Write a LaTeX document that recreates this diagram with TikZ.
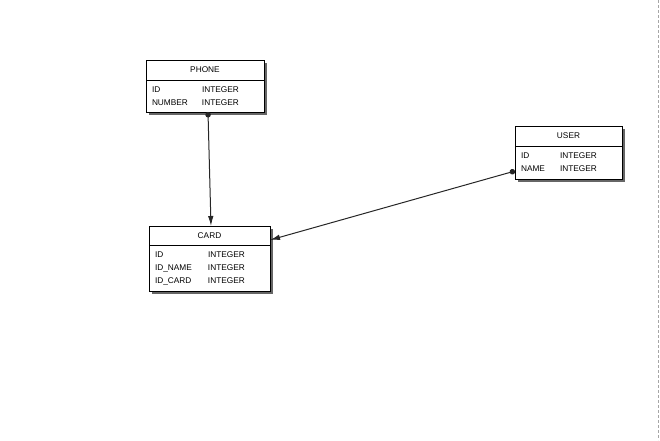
\documentclass[tikz,border=0pt]{standalone}
\usepackage{fontspec}
\setmainfont{Liberation Sans}
\usetikzlibrary{positioning,shadows,arrows.meta}
\tikzset{
  tblshadow/.style={drop shadow={shadow xshift=3pt,shadow yshift=-3pt,fill=black!60,opacity=1}},
  tbltitle/.style={draw=black,fill=white,line width=1pt,outer sep=0pt,inner sep=0pt,
    anchor=north west,minimum height=20pt,font=\fontsize{8.3}{13}\selectfont,tblshadow},
  tblbody/.style={draw=black,fill=white,line width=1pt,outer sep=0pt,inner xsep=6pt,inner ysep=0pt,
    align=left,font=\fontsize{8.3}{13}\selectfont,tblshadow},
  link/.style={draw=black!85,line width=1pt,
    {Circle[length=5.5pt]}-{Latex[length=10pt,width=5.5pt]}}
}
\begin{document}
\begin{tikzpicture}[x=1pt,y=-1pt]
  \useasboundingbox (0,0) rectangle (660,440);
  \draw[black!35,dash pattern=on 3pt off 2pt] (658,0) -- (658,440);

  \node[tbltitle,minimum width=118pt] (phone) at (146,60) {PHONE};
  \node[tblbody,text width=106pt,minimum height=32pt,below=0pt of phone] (phonebody)
    {\begin{tabular}{@{}p{50pt}@{}l@{}}ID & INTEGER\\ NUMBER & INTEGER\end{tabular}};

  \node[tbltitle,minimum width=121pt,minimum height=19pt] (card) at (149,226) {CARD};
  \node[tblbody,text width=109pt,minimum height=46pt,below=0pt of card] (cardbody)
    {\begin{tabular}{@{}p{53pt}@{}l@{}}ID & INTEGER\\ ID\_NAME & INTEGER\\ ID\_CARD & INTEGER\end{tabular}};

  \node[tbltitle,minimum width=107pt] (user) at (515,126) {USER};
  \node[tblbody,text width=95pt,minimum height=33pt,below=0pt of user] (userbody)
    {\begin{tabular}{@{}p{39pt}@{}l@{}}ID & INTEGER\\ NAME & INTEGER\end{tabular}};

  \draw[link] ([xshift=3pt]phonebody.south) -- ([xshift=1.5pt]card.north);
  \draw[link] ([yshift=-8.5pt]userbody.west) -- ([yshift=5pt]cardbody.north east);
\end{tikzpicture}
\end{document}
